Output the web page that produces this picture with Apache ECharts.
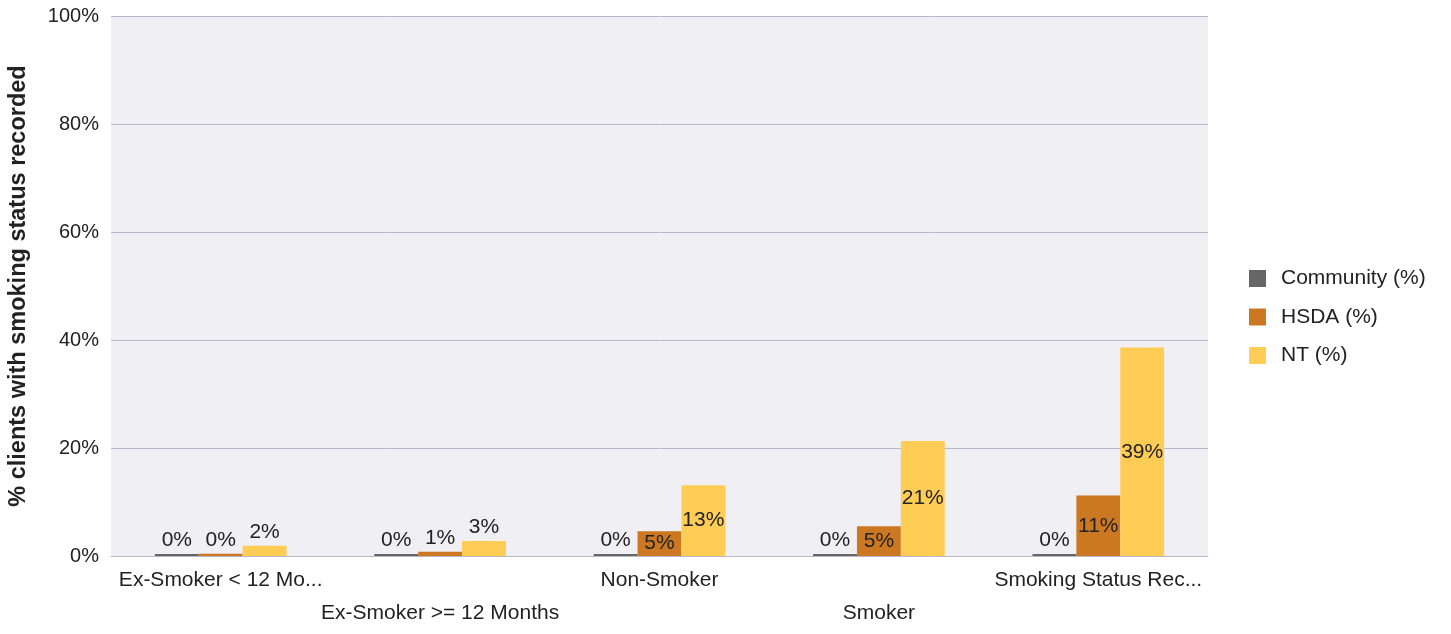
<!DOCTYPE html>
<html>
<head>
<meta charset="utf-8">
<script src="https://cdn.jsdelivr.net/npm/echarts@6/dist/echarts.min.js"></script>
<style>
html,body{margin:0;padding:0;background:#fff;}
#chart{width:1451px;height:634px;}
</style>
</head>
<body>
<div id="chart"></div>
<script>
const categories = ["Ex-Smoker < 12 Mo...", "Ex-Smoker >= 12 Months", "Non-Smoker", "Smoker", "Smoking Status Rec..."];
const communityValues = [0, 0, 0, 0, 0];
const hsdaValues = [0.43, 0.8, 4.6, 5.49, 11.2];
const ntValues = [1.9, 2.8, 13.1, 21.3, 38.6];
const yTicks = [0, 20, 40, 60, 80, 100];
const seriesNames = ["Community (%)", "HSDA (%)", "NT (%)"];

const FONT = "'Liberation Sans', Arial, sans-serif";
const TXT = '#222';

function labelFor(v) {
  return {
    value: v,
    label: { position: v >= 4 ? 'inside' : 'top' }
  };
}

const chart = echarts.init(document.getElementById('chart'));
const baseLabel = {
  show: true,
  color: TXT,
  fontFamily: FONT,
  fontSize: 21,
  distance: 3,
  formatter: p => Math.round(p.value) + '%'
};

chart.setOption({
  animation: false,
  textStyle: { fontFamily: FONT },
  grid: {
    left: 111, right: 243, top: 16, bottom: 78,
    outerBoundsMode: 'none',
    containLabel: false,
    show: true, backgroundColor: '#efeff4', borderWidth: 0
  },
  legend: {
    orient: 'vertical',
    left: 1244, top: 263,
    itemWidth: 17, itemHeight: 17, itemGap: 17.5,
    icon: 'rect',
    textStyle: { color: TXT, fontSize: 21, fontFamily: FONT, padding: [0, 0, 0, 10] },
    data: seriesNames
  },
  xAxis: {
    type: 'category',
    data: categories,
    axisLine: { lineStyle: { color: '#b8b8cc', width: 1 } },
    axisTick: { show: false },
    axisLabel: {
      interval: 0,
      color: TXT,
      fontSize: 21,
      fontFamily: FONT,
      margin: 8,
      lineHeight: 33,
      verticalAlign: 'top',
      formatter: (v, i) => (i % 2 === 1 ? '\n' + v : v)
    }
  },
  yAxis: {
    type: 'value',
    min: yTicks[0], max: yTicks[yTicks.length - 1], interval: 20,
    name: '% clients with smoking status recorded',
    nameLocation: 'middle',
    nameGap: 80,
    nameTextStyle: { color: TXT, fontSize: 23.5, fontWeight: 'bold', fontFamily: FONT },
    axisLine: { show: false },
    axisTick: { show: false },
    splitLine: { lineStyle: { color: '#b8b8cc', width: 1 } },
    axisLabel: {
      color: TXT, fontSize: 20, fontFamily: FONT, margin: 12,
      formatter: v => v + '%'
    }
  },
  series: [
    {
      name: seriesNames[0], type: 'bar', data: communityValues.map(labelFor),
      itemStyle: { color: '#666666' }, barGap: '0%', barCategoryGap: '40%',
      barMinHeight: 2, label: baseLabel
    },
    {
      name: seriesNames[1], type: 'bar', data: hsdaValues.map(labelFor),
      itemStyle: { color: '#cc7722' }, barGap: '0%', barCategoryGap: '40%',
      label: baseLabel
    },
    {
      name: seriesNames[2], type: 'bar', data: ntValues.map(labelFor),
      itemStyle: { color: '#ffcc55' }, barGap: '0%', barCategoryGap: '40%',
      label: baseLabel
    }
  ]
});
</script>
</body>
</html>
